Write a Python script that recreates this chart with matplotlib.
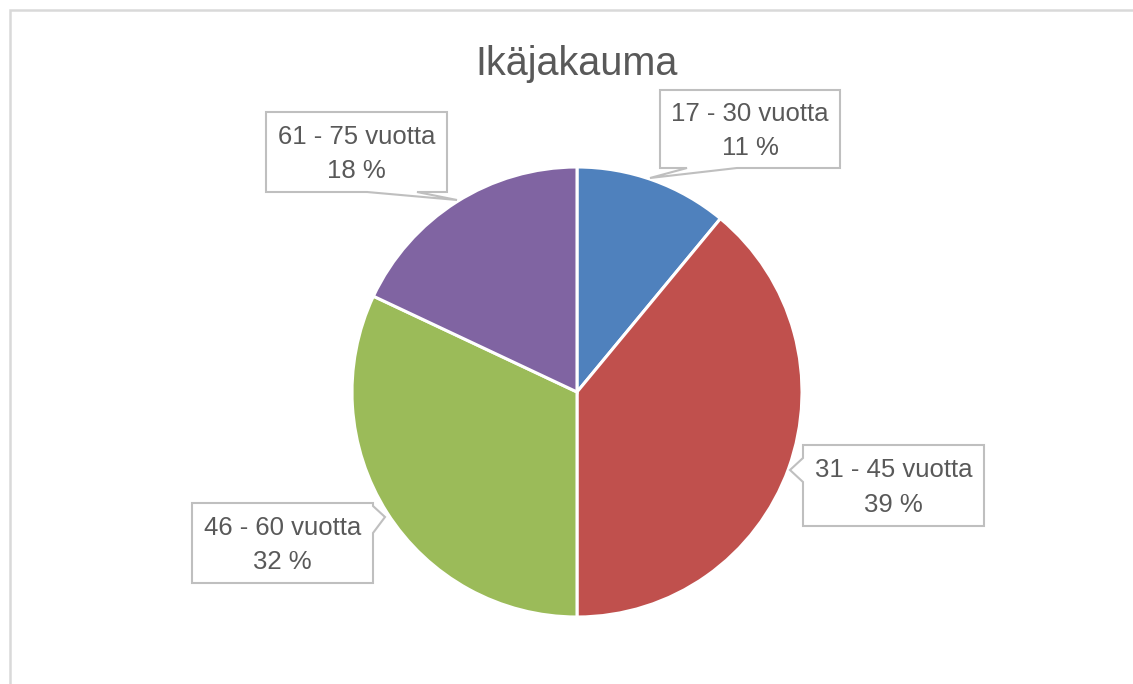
import matplotlib.pyplot as plt
from matplotlib.patches import Polygon, Rectangle

# data
title = "Ikäjakauma"
age_groups = ["17 - 30 vuotta", "31 - 45 vuotta", "46 - 60 vuotta", "61 - 75 vuotta"]
shares = [11, 39, 32, 18]
colors = ["#4F81BD", "#C0504D", "#9BBB59", "#8064A2"]

W, H = 1133, 684
plt.rcParams['font.family'] = ['Liberation Sans', 'DejaVu Sans']
text_col = "#595959"

fig = plt.figure(figsize=(W / 100, H / 100), dpi=100)
ax = fig.add_axes([0, 0, 1, 1])

ax.pie(shares, colors=colors, startangle=90, counterclock=False,
       center=(577, H - 392), radius=225,
       wedgeprops=dict(edgecolor='white', linewidth=2.2))
ax.set_xlim(0, W)
ax.set_ylim(0, H)
ax.set_aspect('equal')
ax.axis('off')

# outer chart frame
ax.add_patch(Rectangle((10, -20), W + 20, H - 10 + 20, fill=False,
                       edgecolor='#d9d9d9', linewidth=1.8, clip_on=False))

ax.text(577, H - 64, title, ha='center', va='center', fontsize=28.5, color=text_col)

# callout shapes (pixel coords, top-left origin)
callouts = [
    [(660, 90), (840, 90), (840, 168), (737, 168), (650, 178), (687, 168), (660, 168)],
    [(803, 445), (984, 445), (984, 526), (803, 526), (803, 482), (790, 470), (803, 458)],
    [(192, 503), (373, 503), (373, 506), (385, 517), (373, 533), (373, 583), (192, 583)],
    [(266, 112), (447, 112), (447, 192), (417, 192), (457, 200), (367, 192), (266, 192)],
]
boxes = [(660, 840, 90, 168), (803, 984, 445, 526), (192, 373, 503, 583), (266, 447, 112, 192)]

for pts, box, grp, val in zip(callouts, boxes, age_groups, shares):
    poly = Polygon([(x, H - y) for x, y in pts], closed=True, facecolor='white',
                   edgecolor='#bfbfbf', linewidth=1.5, joinstyle='miter')
    ax.add_patch(poly)
    cx = (box[0] + box[1]) / 2
    cy = (box[2] + box[3]) / 2 + 2
    ax.text(cx, H - cy, f"{grp}\n{val} %", ha='center', va='center',
            fontsize=18.5, color=text_col, linespacing=1.55)

fig.savefig("out.png", dpi=100, facecolor='white')
